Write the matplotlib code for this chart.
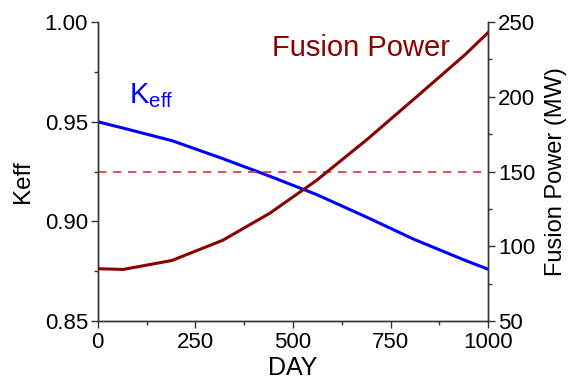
import matplotlib
matplotlib.use('Agg')
from matplotlib import pyplot as plt
from matplotlib.ticker import MultipleLocator, FormatStrFormatter

# values
day = [0, 65, 190, 320, 440, 560, 690, 810, 940, 1000]
keff = [0.950, 0.9468, 0.9405, 0.9315, 0.9227, 0.9135, 0.902, 0.891, 0.8805, 0.876]
power = [85, 84.5, 90.5, 104, 122, 144, 171.5, 198.5, 228, 243]
power_ref = 150

plt.rcParams['font.family'] = ['Liberation Sans', 'DejaVu Sans']

fig = plt.figure(figsize=(5.75, 3.87), dpi=100)
ax = fig.add_axes([0.170, 0.1705, 0.679, 0.7725])
ax2 = ax.twinx()

ax.plot(day, keff, color='#0000ff', lw=2.2, zorder=3)
ax2.plot(day, power, color='#8b0000', lw=2.2, zorder=3)
ax2.axhline(power_ref, color='#e03030', lw=1.2, ls=(0, (5, 4)))

ax.set_xlim(0, 1000)
ax.set_ylim(0.85, 1.00)
ax2.set_ylim(50, 250)

ax.xaxis.set_major_locator(MultipleLocator(250))
ax.xaxis.set_minor_locator(MultipleLocator(125))
ax.yaxis.set_major_locator(MultipleLocator(0.05))
ax.yaxis.set_minor_locator(MultipleLocator(0.025))
ax2.yaxis.set_major_locator(MultipleLocator(50))
ax2.yaxis.set_minor_locator(MultipleLocator(25))
ax.yaxis.set_major_formatter(FormatStrFormatter('%.2f'))

for a in (ax, ax2):
    a.spines['top'].set_visible(False)
    for s in a.spines.values():
        s.set_color('#333333')
        s.set_linewidth(1.0)
    a.tick_params(which='major', direction='out', length=5, width=1, labelsize=16,
                  colors='#333333', labelcolor='black', pad=2)
    a.tick_params(which='minor', direction='out', length=3, width=1, colors='#333333')
ax.tick_params(axis='x', pad=3)

ax.set_xlabel('DAY', fontsize=18, labelpad=2)
ax.set_ylabel('Keff', fontsize=17.5)
ax2.set_ylabel('Fusion Power (MW)', fontsize=17)
ax.yaxis.set_label_coords(-0.163, 0.467)
ax2.yaxis.set_label_coords(1.146, 0.5)

ax.text(0.08, 0.73, r'K$_{\mathregular{eff}}$', transform=ax.transAxes, fontsize=21, color='#0000ff')
ax.text(0.447, 0.885, 'Fusion Power', transform=ax.transAxes, fontsize=21, color='#8b0000')

plt.savefig('out.png', dpi=100)
